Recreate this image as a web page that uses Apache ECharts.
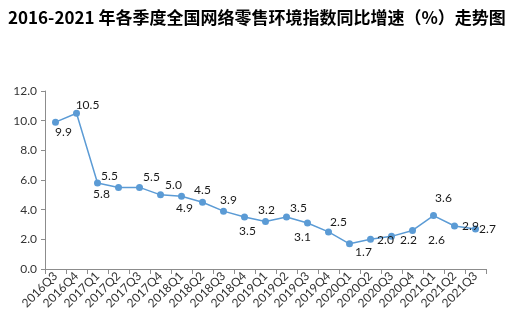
<!DOCTYPE html>
<html>
<head>
<meta charset="utf-8">
<script src="https://cdn.jsdelivr.net/npm/echarts@6/dist/echarts.min.js"></script>
<style>html,body{margin:0;padding:0;background:#fff;}#c{width:510px;height:322px;}</style>
</head>
<body>
<div id="c"></div>
<script>
const titleText = '2016-2021 年各季度全国网络零售环境指数同比增速（%）走势图';
const categories = ['2016Q3','2016Q4','2017Q1','2017Q2','2017Q3','2017Q4','2018Q1','2018Q2','2018Q3','2018Q4','2019Q1','2019Q2','2019Q3','2019Q4','2020Q1','2020Q2','2020Q3','2020Q4','2021Q1','2021Q2','2021Q3'];
const values = [9.9, 10.5, 5.8, 5.5, 5.5, 5.0, 4.9, 4.5, 3.9, 3.5, 3.2, 3.5, 3.1, 2.5, 1.7, 2.0, 2.2, 2.6, 3.6, 2.9, 2.7];
const yTicks = [0, 2, 4, 6, 8, 10, 12];

// label placement (layout only)
const labelOffsets = [[8,10],[11,-8],[4,11],[-9,-11],[12,-10],[13,-10],[3,12],[0,-12],[5,-11],[3,14],[1,-11],[12,-9],[-5,14],[10,-10],[14,8],[15,1],[17,4],[24,10],[10,-17],[16,0],[12,0]];

const font = 'Lato';
const chart = echarts.init(document.getElementById('c'), null, {renderer: 'canvas'});
chart.setOption({
  animation: false,
  backgroundColor: '#fff',
  title: {
    text: titleText, left: 3, top: 4,
    textStyle: {fontFamily: 'Noto Sans CJK SC', fontWeight: 'bold', fontSize: 17, color: '#000'}
  },
  grid: {left: 45, right: 24, top: 91, bottom: 53, containLabel: false},
  xAxis: {
    type: 'category', data: categories, boundaryGap: true,
    axisLine: {lineStyle: {color: '#8c8c8c', width: 1}},
    axisTick: {show: true, interval: 0, length: 5, lineStyle: {color: '#8c8c8c'}},
    axisLabel: {interval: 0, rotate: 45, margin: 5, fontFamily: font, fontSize: 12, color: '#333'}
  },
  yAxis: {
    type: 'value', min: yTicks[0], max: yTicks[yTicks.length-1], interval: 2,
    splitLine: {show: false},
    axisLine: {show: true, lineStyle: {color: '#8c8c8c', width: 1}},
    axisTick: {show: true, length: 4, lineStyle: {color: '#8c8c8c'}},
    axisLabel: {margin: 8, fontFamily: font, fontSize: 12, color: '#333', formatter: v => v.toFixed(1)}
  },
  series: [{
    type: 'line',
    data: values.map((v, i) => ({value: v, label: {offset: labelOffsets[i]}})),
    symbol: 'circle', symbolSize: 7,
    lineStyle: {color: '#5B9BD5', width: 1.5},
    itemStyle: {color: '#5B9BD5'},
    label: {show: true, position: 'inside', fontFamily: font, fontSize: 12, color: '#1a1a1a',
      formatter: p => p.value.toFixed(1)}
  }]
});
</script>
</body>
</html>
